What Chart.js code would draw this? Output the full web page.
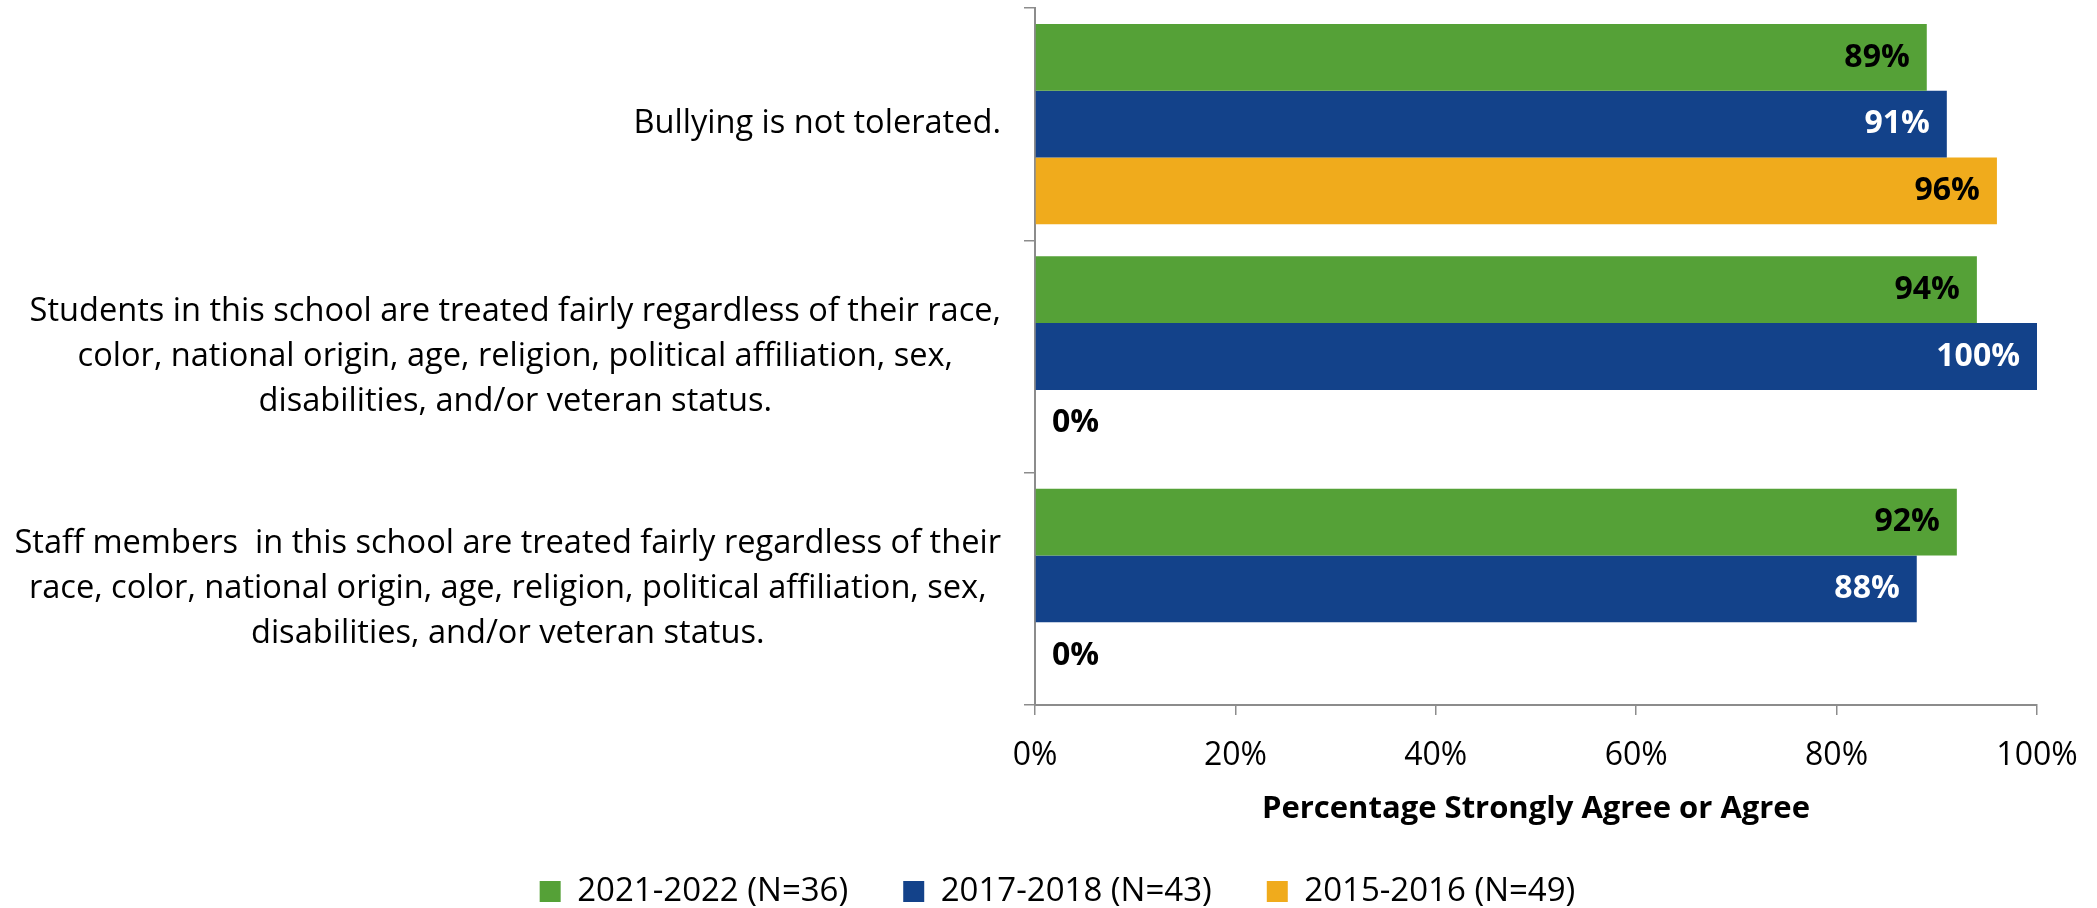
<!DOCTYPE html>
<html>
<head>
<meta charset="utf-8">
<script src="https://cdn.jsdelivr.net/npm/chart.js@4.4.1/dist/chart.umd.min.js"></script>
<style>
    html, body { margin: 0; padding: 0; background: #fff; }
    #wrap { width: 2097px; height: 908px; position: relative; }
</style>
</head>
<body>
<div id="wrap"><canvas id="surveyChart"></canvas></div>
<script>
const categories = [
    ['Bullying is not tolerated.'],
    ['Students in this school are treated fairly regardless of their race,',
        'color, national origin, age, religion, political affiliation, sex,',
        'disabilities, and/or veteran status.'],
    ['Staff members  in this school are treated fairly regardless of their',
        'race, color, national origin, age, religion, political affiliation, sex,',
        'disabilities, and/or veteran status.']
];
const seriesNames = ['2021-2022 (N=36)', '2017-2018 (N=43)', '2015-2016 (N=49)'];
const values2021 = [89, 94, 92];
const values2017 = [91, 100, 88];
const values2015 = [96, 0, 0];
const xTickValues = [0, 20, 40, 60, 80, 100];
const axisTitle = 'Percentage Strongly Agree or Agree';

const FONT = "'Open Sans', sans-serif";
const GREEN = '#55a137';
const BLUE = '#13428a';
const ORANGE = '#f0ab1c';
const AXIS = '#8c8c8c';
const PAD_LEFT = 78;

Chart.defaults.color = '#000';
Chart.defaults.font.family = FONT;

// category labels: each block centred on itself, block right aligned like Excel
const categoryLabels = {
    id: 'categoryLabels',
    afterDraw(chart) {
        const {ctx} = chart;
        const y = chart.scales.y;
        const rightEdge = y.right - 34;
        ctx.save();
        ctx.font = `32.6px ${FONT}`;
        ctx.fillStyle = '#000';
        ctx.textAlign = 'center';
        ctx.textBaseline = 'middle';
        categories.forEach((lines, i) => {
            const cy = y.getPixelForValue(i);
            const widest = Math.max(...lines.map(l => ctx.measureText(l).width));
            const cx = rightEdge - widest / 2;
            lines.forEach((line, j) => {
                ctx.fillText(line, cx, cy + (j - (lines.length - 1) / 2) * 45);
            });
        });
        ctx.restore();
    }
};

const valueLabels = {
    id: 'valueLabels',
    afterDatasetsDraw(chart) {
        const {ctx} = chart;
        ctx.save();
        ctx.font = `bold 32px ${FONT}`;
        ctx.textBaseline = 'middle';
        chart.data.datasets.forEach((ds, di) => {
            const meta = chart.getDatasetMeta(di);
            meta.data.forEach((bar, i) => {
                const v = ds.data[i];
                if (v > 0) {
                    ctx.textAlign = 'right';
                    ctx.fillStyle = di === 1 ? '#fff' : '#000';
                    ctx.fillText(v + '%', bar.x - 17, bar.y);
                } else {
                    ctx.textAlign = 'left';
                    ctx.fillStyle = '#000';
                    ctx.fillText(v + '%', bar.base + 17, bar.y);
                }
            });
        });
        ctx.restore();
    }
};

new Chart(document.querySelector('#surveyChart'), {
    type: 'bar',
    data: {
        labels: categories,
        datasets: [
            {label: seriesNames[0], data: values2021, backgroundColor: GREEN},
            {label: seriesNames[1], data: values2017, backgroundColor: BLUE},
            {label: seriesNames[2], data: values2015, backgroundColor: ORANGE}
        ]
    },
    options: {
        indexAxis: 'y',
        responsive: true,
        maintainAspectRatio: false,
        animation: false,
        layout: {padding: {top: 8, right: 60, bottom: -10, left: PAD_LEFT}},
        datasets: {
            bar: {categoryPercentage: 0.862, barPercentage: 1, borderWidth: 0}
        },
        scales: {
            x: {
                min: 0,
                max: 100,
                afterBuildTicks(scale) {
                    scale.ticks = xTickValues.map(v => ({value: v}));
                },
                afterFit(scale) {
                    scale.height = 115;
                    scale.paddingLeft = 0;
                    scale.paddingRight = 0;
                },
                ticks: {
                    callback: v => v + '%',
                    font: {size: 32},
                    padding: 22,
                    maxRotation: 0
                },
                grid: {drawOnChartArea: false, tickLength: 10, color: AXIS, lineWidth: 1.5},
                border: {color: AXIS, width: 2},
                title: {
                    display: true,
                    text: axisTitle,
                    font: {size: 31, weight: 'bold'},
                    padding: {top: 0, bottom: -8}
                }
            },
            y: {
                ticks: {display: false},
                afterFit(scale) {
                    scale.width = 1035 - PAD_LEFT;
                },
                grid: {offset: true, drawOnChartArea: false, tickLength: 11, color: AXIS, lineWidth: 1.5},
                border: {color: AXIS, width: 2}
            }
        },
        plugins: {
            legend: {
                position: 'bottom',
                labels: {
                    font: {size: 33},
                    boxWidth: 21,
                    boxHeight: 21,
                    padding: 55,
                    color: '#000'
                }
            },
            tooltip: {enabled: false}
        }
    },
    plugins: [categoryLabels, valueLabels]
});
</script>
</body>
</html>
